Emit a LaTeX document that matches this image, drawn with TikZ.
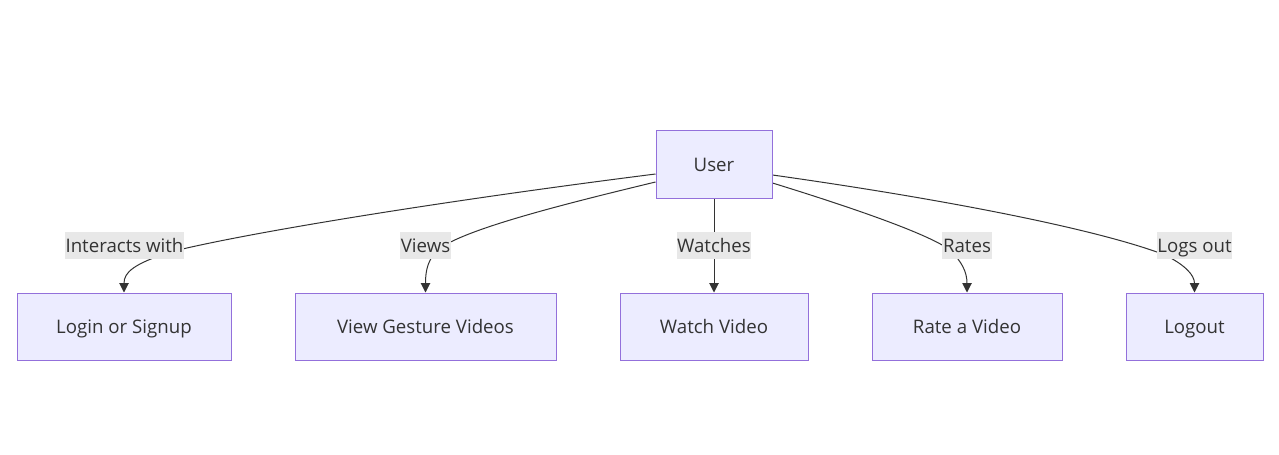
\documentclass[tikz,border=0pt]{standalone}
\usepackage{fontspec}
\setmainfont{Open Sans}
\usetikzlibrary{arrows.meta,backgrounds}
\definecolor{boxfill}{HTML}{ECECFF}
\definecolor{boxline}{HTML}{9370DB}
\definecolor{edgecol}{HTML}{333333}
\definecolor{lblfill}{HTML}{E8E8E8}
\tikzset{
  box/.style={draw=boxline, fill=boxfill, line width=0.75pt, inner sep=0pt,
    minimum height=50.25pt, text height=12.5pt, text depth=1.5pt,
    font=\fontsize{14}{16}\selectfont, text=edgecol},
  lbl/.style={fill=lblfill, inner xsep=0.5pt, inner ysep=0pt, minimum height=20.25pt,
    text height=12pt, text depth=1.5pt,
    font=\fontsize{14}{16}\selectfont, text=edgecol},
  edge/.style={draw=edgecol, line width=0.75pt, -{Triangle[length=7pt,width=7pt]}}
}
\begin{document}
\begin{tikzpicture}[x=0.75pt, y=-0.75pt]
  \useasboundingbox (0,0) rectangle (1279,454);
  % boxes
  \node[box, minimum width=87pt, minimum height=51pt] (user) at (714,164) {User};
  \node[box, minimum width=160.5pt] (login) at (124,326.5) {Login or Signup};
  \node[box, minimum width=195.75pt] (gesture) at (425.5,326.5) {View Gesture Videos};
  \node[box, minimum width=141pt] (watch) at (714,326.5) {Watch Video};
  \node[box, minimum width=142.5pt] (rate) at (967,326.5) {Rate a Video};
  \node[box, minimum width=102.75pt] (logout) at (1194.5,326.5) {Logout};
  % edge labels
  \node[lbl] (linteract) at (124.5,245.5) {Interacts with};
  \node[lbl] (lviews) at (425.5,245.5) {Views};
  \node[lbl] (lwatches) at (714,245.5) {Watches};
  \node[lbl] (lrates) at (967,245.5) {Rates};
  \node[lbl] (llogs) at (1194.5,245.5) {Logs out};
  % connectors
  \begin{pgfonlayer}{background}
    \draw[edge] ([yshift=-7.5pt]user.west) .. controls (450,200) and (250,232) .. (170,252)
      .. controls (134,264) and (124,272) .. (login.north);
    \draw[edge] ([yshift=-13.5pt]user.west) .. controls (560,205) and (470,228) .. (440,248)
      .. controls (428,258) and (425.5,270) .. (gesture.north);
    \draw[edge] (user.south) -- (watch.north);
    \draw[edge] ([yshift=-14.25pt]user.east) .. controls (860,210) and (930,235) .. (950,250)
      .. controls (962,262) and (967,272) .. (rate.north);
    \draw[edge] ([yshift=-8.25pt]user.east) .. controls (950,200) and (1100,230) .. (1165,255)
      .. controls (1185,265) and (1194.5,275) .. (logout.north);
  \end{pgfonlayer}
\end{tikzpicture}
\end{document}
